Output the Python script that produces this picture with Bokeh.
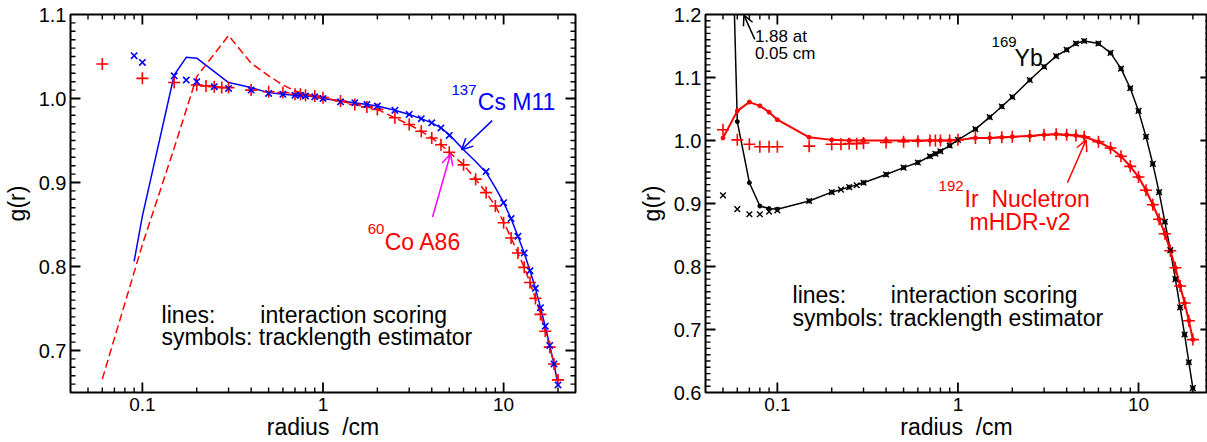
import math
from bokeh.plotting import figure
from bokeh.models import (Range1d, FixedTicker, PrintfTickFormatter, CustomJSTickFormatter,
                          Label, Arrow, OpenHead, ColumnDataSource)
from bokeh.layouts import row
from bokeh.embed import file_html
from bokeh.resources import INLINE

FONT = "Liberation Sans"

# ---------------- left panel data: 137Cs M11 and 60Co A86 ----------------
cs_sym_r = [0.09, 0.1, 0.15, 0.175, 0.2, 0.25, 0.3, 0.4, 0.5, 0.6, 0.7, 0.75, 0.8, 0.9, 1.0,
            1.25, 1.5, 1.75, 2, 2.5, 3, 3.5, 4, 4.5, 5, 8, 10, 11, 12, 13, 14, 15, 16, 17, 18, 19, 20]
cs_sym_g = [1.051, 1.043, 1.027, 1.022, 1.020, 1.014, 1.012, 1.010, 1.006, 1.005, 1.004, 1.004, 1.003, 1.002, 1.000,
            0.996, 0.995, 0.993, 0.991, 0.986, 0.981, 0.976, 0.971, 0.965, 0.956, 0.913, 0.876, 0.857, 0.836,
            0.816, 0.795, 0.774, 0.751, 0.729, 0.706, 0.684, 0.659]

cs_line_r = [0.09, 0.1, 0.15, 0.175, 0.2, 0.3, 0.4, 0.5, 0.6, 0.7, 0.8, 0.9, 1.0, 1.25, 1.5, 2, 2.5, 3, 3.5,
             4, 4.5, 5, 6, 7, 8, 9, 10, 11, 12, 13, 14, 15, 16, 17, 18, 19, 20]
cs_line_g = [0.806, 0.860, 1.028, 1.049, 1.048, 1.019, 1.013, 1.007, 1.005, 1.004, 1.003, 1.002, 1.000, 0.997,
             0.995, 0.991, 0.986, 0.981, 0.976, 0.971, 0.965, 0.957, 0.939, 0.925, 0.912, 0.894, 0.876, 0.857,
             0.836, 0.816, 0.795, 0.774, 0.751, 0.729, 0.706, 0.684, 0.659]

co_sym_r = [0.06, 0.1, 0.15, 0.2, 0.225, 0.25, 0.275, 0.3, 0.4, 0.5, 0.6, 0.7, 0.75, 0.8, 0.9, 1.0,
            1.25, 1.5, 1.75, 2, 2.5, 3, 3.5, 4, 4.5, 5, 6, 7, 8, 9, 10, 11, 12, 13, 14, 15, 16, 17, 18, 19, 20]
co_sym_g = [1.041, 1.024, 1.019, 1.016, 1.015, 1.014, 1.013, 1.013, 1.010, 1.008, 1.007, 1.005, 1.005, 1.004,
            1.003, 1.001, 0.997, 0.993, 0.990, 0.987, 0.977, 0.969, 0.961, 0.953, 0.945, 0.936, 0.921, 0.904,
            0.888, 0.872, 0.852, 0.834, 0.816, 0.799, 0.781, 0.762, 0.743, 0.723, 0.704, 0.684, 0.665]

co_line_r = [0.06, 0.1, 0.15, 0.2, 0.3, 0.4, 0.5, 0.6, 0.7, 0.8, 0.9, 1.0, 1.25, 1.5, 2, 2.5, 3, 3.5, 4, 4.5,
             5, 6, 7, 8, 9, 10, 11, 12, 13, 14, 15, 16, 17, 18, 19, 20]
co_line_g = [0.666, 0.826, 0.941, 1.026, 1.075, 1.042, 1.027, 1.016, 1.009, 1.005, 1.003, 1.001, 0.997, 0.993,
             0.987, 0.977, 0.969, 0.961, 0.953, 0.945, 0.936, 0.921, 0.904, 0.888, 0.872, 0.853, 0.834, 0.816,
             0.799, 0.781, 0.762, 0.743, 0.723, 0.704, 0.684, 0.665]

# ---------------- right panel data: 169Yb and 192Ir Nucletron mHDR-v2 ----------------
yb_line_r = [0.05, 0.06, 0.07, 0.08, 0.09, 0.1, 0.15, 0.2, 0.25, 0.3, 0.4, 0.5, 0.6, 0.7, 0.75, 0.8, 0.9, 1.0,
             1.25, 1.5, 1.75, 2, 2.5, 3, 3.5, 4, 4.5, 5, 6, 7, 8, 9, 10, 11, 12, 13, 14, 15, 16, 17, 18, 19, 20]
yb_line_g = [1.88, 1.030, 0.933, 0.896, 0.892, 0.891, 0.904, 0.918, 0.926, 0.933, 0.946, 0.957, 0.965, 0.975,
             0.979, 0.983, 0.992, 1.001, 1.018, 1.037, 1.054, 1.069, 1.096, 1.117, 1.134, 1.144, 1.154, 1.158,
             1.154, 1.139, 1.114, 1.083, 1.047, 1.006, 0.963, 0.918, 0.871, 0.826, 0.780, 0.735, 0.692, 0.648, 0.607]

yb_sym_r = [0.05, 0.06, 0.07, 0.08, 0.09, 0.1, 0.15, 0.2, 0.225, 0.25, 0.275, 0.3, 0.4, 0.5, 0.6, 0.7, 0.75, 0.8,
            0.9, 1.0, 1.25, 1.5, 1.75, 2, 2.5, 3, 3.5, 4, 4.5, 5, 6, 7, 8, 9, 10, 11, 12, 13, 14, 15, 16, 17, 18, 19, 20]
yb_sym_g = [0.913, 0.891, 0.883, 0.883, 0.887, 0.889, 0.904, 0.918, 0.922, 0.926, 0.929, 0.933, 0.946, 0.957,
            0.965, 0.975, 0.979, 0.983, 0.992, 1.001, 1.018, 1.037, 1.054, 1.069, 1.096, 1.117, 1.134, 1.144,
            1.154, 1.158, 1.154, 1.139, 1.114, 1.083, 1.047, 1.006, 0.963, 0.918, 0.871, 0.826, 0.780, 0.735,
            0.692, 0.648, 0.607]

ir_line_r = [0.05, 0.06, 0.07, 0.08, 0.09, 0.1, 0.15, 0.2, 0.25, 0.3, 0.4, 0.5, 0.6, 0.7, 0.8, 0.9, 1.0,
             1.25, 1.5, 1.75, 2, 2.5, 3, 3.5, 4, 4.5, 5, 6, 7, 8, 9, 10, 11, 12, 13, 14, 15, 16, 17, 18, 19, 20]
ir_line_g = [1.004, 1.047, 1.061, 1.055, 1.045, 1.033, 1.005, 1.001, 1.000, 1.000, 1.000, 1.000, 1.000, 1.000,
             1.000, 1.000, 1.001, 1.004, 1.004, 1.005, 1.006, 1.007, 1.009, 1.010, 1.009, 1.008, 1.006, 0.998,
             0.988, 0.975, 0.959, 0.942, 0.921, 0.898, 0.875, 0.852, 0.825, 0.798, 0.769, 0.742, 0.714, 0.684]

ir_sym_r = [0.05, 0.06, 0.07, 0.08, 0.09, 0.1, 0.15, 0.2, 0.225, 0.25, 0.275, 0.3, 0.4, 0.5, 0.6, 0.7, 0.75, 0.8,
            0.9, 1.0, 1.25, 1.5, 1.75, 2, 2.5, 3, 3.5, 4, 4.5, 5, 6, 7, 8, 9, 10, 11, 12, 13, 14, 15, 16, 17, 18, 19, 20]
ir_sym_g = [1.017, 1.001, 0.994, 0.990, 0.990, 0.990, 0.991, 0.994, 0.994, 0.995, 0.995, 0.996, 0.997, 0.998,
            0.999, 1.000, 1.000, 1.000, 1.000, 1.001, 1.004, 1.004, 1.005, 1.006, 1.007, 1.009, 1.010, 1.009,
            1.008, 1.006, 0.998, 0.988, 0.975, 0.959, 0.942, 0.921, 0.898, 0.875, 0.852, 0.825, 0.798, 0.769,
            0.742, 0.714, 0.684]

# ---------------- ticks and axis texts ----------------
x_major = [0.1, 1, 10]
x_minor = [round(m * 10.0 ** e, 6) for e in (-2, -1, 0, 1) for m in range(2, 10)]
x_label = "radius \u00a0/cm"
y_label = "g(r)"


def y_ticks(lo, hi):
    a, b = math.ceil(lo * 10 - 1e-9), math.floor(hi * 10 + 1e-9)
    major = [round(i / 10, 2) for i in range(a, b + 1)]
    c, d = math.ceil(lo * 100 - 1e-9), math.floor(hi * 100 + 1e-9)
    minor = [round(i / 100, 3) for i in range(c, d + 1) if i % 10 != 0]
    return major, minor


def style_axis(ax, tick_size):
    ax.axis_line_color = None
    ax.major_tick_line_color = None
    ax.minor_tick_line_color = None
    ax.major_tick_in = 0
    ax.major_tick_out = 0
    ax.minor_tick_in = 0
    ax.minor_tick_out = 0
    ax.major_label_text_font = FONT
    ax.major_label_text_font_size = tick_size
    ax.major_label_text_color = "black"
    ax.major_label_standoff = 5
    ax.axis_label_text_font = FONT
    ax.axis_label_text_font_style = "normal"
    ax.axis_label_text_font_size = "23px"
    ax.axis_label_text_color = "black"


def make_fig(width, border_left, border_right, y0, y1, x1):
    p = figure(width=width, height=442, x_axis_type="log",
               x_range=Range1d(0.04, x1), y_range=Range1d(y0, y1),
               output_backend="svg", toolbar_location=None,
               min_border_left=border_left, min_border_right=border_right,
               min_border_top=14, min_border_bottom=48)
    p.outline_line_color = "black"
    p.outline_line_width = 2
    p.xgrid.grid_line_color = None
    p.ygrid.grid_line_color = None

    ymaj, _ = y_ticks(y0, y1)
    xa = p.xaxis[0]
    xa.ticker = FixedTicker(ticks=x_major)
    xa.formatter = CustomJSTickFormatter(code="return tick.toString()")
    xa.axis_label = x_label
    style_axis(xa, "19px")
    xa.axis_label_standoff = 0

    ya = p.yaxis[0]
    ya.ticker = FixedTicker(ticks=ymaj)
    ya.formatter = PrintfTickFormatter(format="%.1f")
    ya.axis_label = y_label
    style_axis(ya, "20px")
    ya.major_label_standoff = 4
    ya.axis_label_standoff = 6
    return p


def add_ticks(p, x0, x1, x_right, y0, y1, frame_w, frame_h, lengths=(10, 5)):
    """Inward IDL-style ticks on all four edges, drawn as head-less arrow annotations
    whose data-space length corresponds to 10 px (major) / 5 px (minor)."""
    ppd = frame_w / math.log10(x1 / x0)
    yper = (y1 - y0) / frame_h
    ymaj, ymin = y_ticks(y0, y1)
    for xt, yt, L, w in ((x_major, ymaj, lengths[0], 1.8), (x_minor, ymin, lengths[1], 1.4)):
        xs = [t for t in xt if x0 < t < x1]
        ys = [t for t in yt if y0 < t < y1]
        f = 10 ** (L / ppd)
        d = dict(xs=[], ys=[], xe=[], ye=[])
        for t in xs:
            d["xs"] += [t, t]
            d["xe"] += [t, t]
            d["ys"] += [y0, y1]
            d["ye"] += [y0 + L * yper, y1 - L * yper]
        for t in ys:
            d["xs"] += [x0, x_right]
            d["xe"] += [x0 * f, x_right / f]
            d["ys"] += [t, t]
            d["ye"] += [t, t]
        p.add_layout(Arrow(end=None, source=ColumnDataSource(d), x_start="xs", y_start="ys",
                           x_end="xe", y_end="ye", line_color="black", line_width=w))


def add_label(p, x, y, text, color, size):
    p.add_layout(Label(x=x, y=y, text=text, text_color=color, text_font=FONT,
                       text_font_size=size, text_align="left", text_baseline="alphabetic"))


# ---------------- left figure ----------------
p1 = make_fig(600, 70, 25, 0.65, 1.1, 25)
p1.line(cs_line_r, cs_line_g, line_color="blue", line_width=1.5)
p1.line(co_line_r, co_line_g, line_color="red", line_width=1.5, line_dash="8 4")
p1.scatter(co_sym_r, co_sym_g, marker="cross", size=12, line_color="red", line_width=1.6)
p1.scatter(cs_sym_r, cs_sym_g, marker="x", size=9, line_color="blue", line_width=1.6)
add_ticks(p1, 0.04, 25, 25, 0.65, 1.1, 505, 380)

add_label(p1, 5.145, 1.0105, "137", "blue", "15px")
add_label(p1, 7.2, 0.9953, "Cs M11", "blue", "23px")
add_label(p1, 1.769, 0.845, "60", "red", "15px")
add_label(p1, 2.197, 0.8296, "Co A86", "red", "23px")
add_label(p1, 0.1278, 0.7425, "lines:", "black", "23px")
add_label(p1, 0.45, 0.7425, "interaction scoring", "black", "23px")
add_label(p1, 0.1278, 0.7155, "symbols: tracklength estimator", "black", "23px")

p1.add_layout(Arrow(end=OpenHead(line_color="blue", line_width=1.5, size=11),
                    x_start=8.64, y_start=0.9737, x_end=5.85, y_end=0.939,
                    line_color="blue", line_width=1.5))
p1.add_layout(Arrow(end=OpenHead(line_color="#ff00ff", line_width=1.5, size=11),
                    x_start=4.04, y_start=0.859, x_end=5.08, y_end=0.934,
                    line_color="#ff00ff", line_width=1.5))

# ---------------- right figure ----------------
p2 = make_fig(607, 105, 0, 0.6, 1.2, 24.1)
p2.line(yb_line_r, yb_line_g, line_color="black", line_width=1.5)
p2.scatter(yb_line_r, yb_line_g, marker="circle", size=4, fill_color="black", line_color="black")
p2.line(ir_line_r, ir_line_g, line_color="red", line_width=2)
p2.scatter(ir_line_r, ir_line_g, marker="circle", size=4, fill_color="red", line_color="red")
p2.scatter(ir_sym_r, ir_sym_g, marker="cross", size=12, line_color="red", line_width=1.6)
p2.scatter(yb_sym_r, yb_sym_g, marker="x", size=8, line_color="black", line_width=1.4)
add_ticks(p2, 0.04, 24.1, 25, 0.6, 1.2, 502, 380)

add_label(p2, 0.0751, 1.1645, "1.88 at", "black", "17px")
add_label(p2, 0.0751, 1.1376, "0.05 cm", "black", "17px")
add_label(p2, 1.536, 1.1566, "169", "black", "15px")
add_label(p2, 2.059, 1.1313, "Yb", "black", "23px")
add_label(p2, 0.7816, 0.9276, "192", "red", "15px")
add_label(p2, 1.088, 0.9071, "Ir\u00a0 Nucletron", "red", "23px")
add_label(p2, 1.16, 0.8708, "mHDR-v2", "red", "23px")
add_label(p2, 0.1214, 0.7544, "lines:", "black", "23px")
add_label(p2, 0.425, 0.7544, "interaction scoring", "black", "23px")
add_label(p2, 0.1214, 0.7181, "symbols: tracklength estimator", "black", "23px")

p2.add_layout(Arrow(end=OpenHead(line_color="black", line_width=1.5, size=10),
                    x_start=0.075, y_start=1.1605, x_end=0.0653, y_end=1.199,
                    line_color="black", line_width=1.5))
p2.add_layout(Arrow(end=OpenHead(line_color="red", line_width=1.5, size=11),
                    x_start=4.04, y_start=0.933, x_end=5.13, y_end=1.001,
                    line_color="red", line_width=1.5))

layout = row(p1, p2)
open("out.html", "w").write(file_html(layout, INLINE))
